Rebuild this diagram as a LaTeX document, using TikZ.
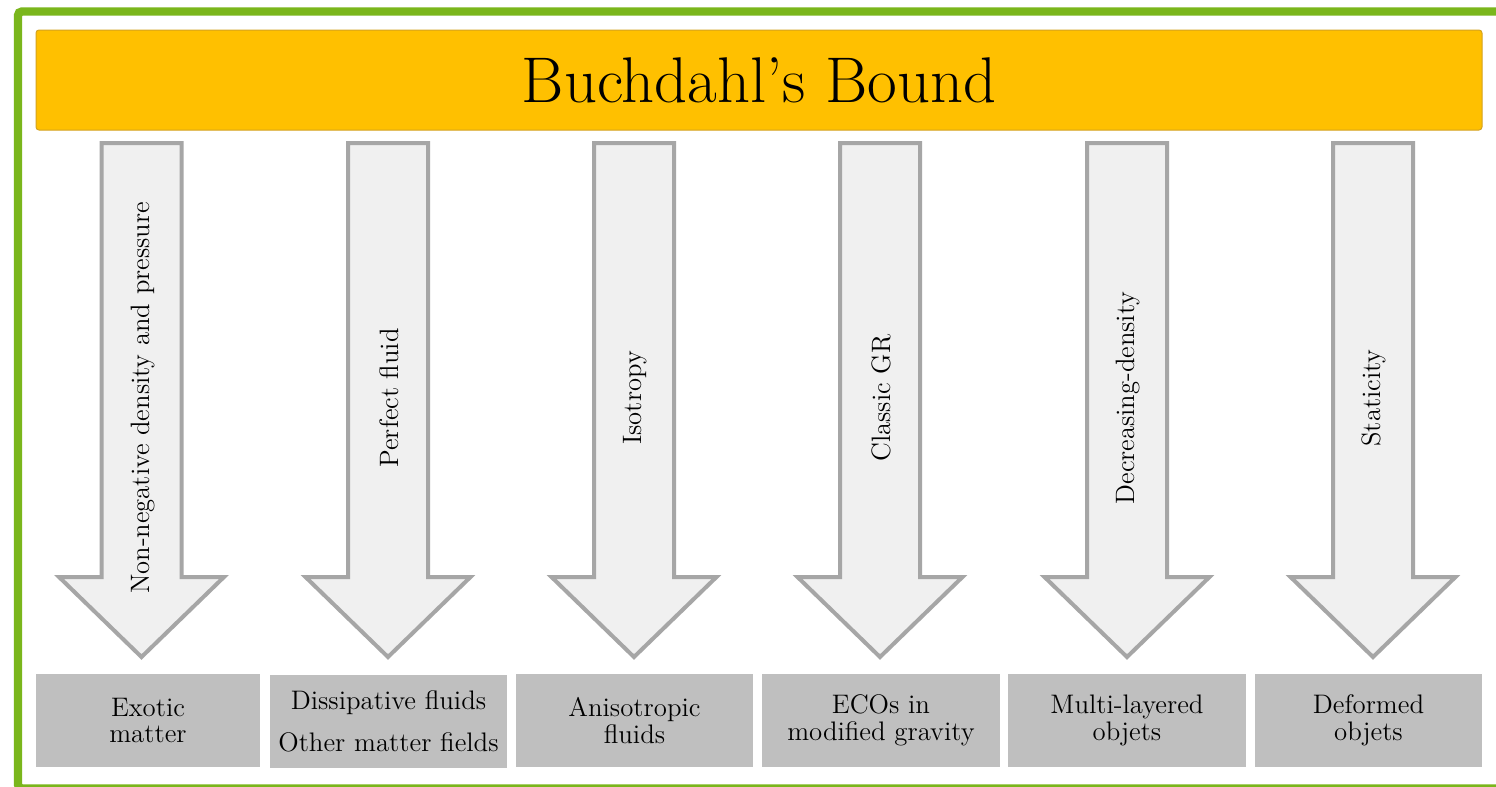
\documentclass[tikz,border=0pt]{standalone}
\usepackage{fontspec}
\definecolor{framegreen}{RGB}{122,182,28}
\definecolor{bannerfill}{RGB}{255,192,0}
\definecolor{bannerline}{RGB}{212,162,30}
\definecolor{arrline}{RGB}{166,166,166}
\definecolor{arrfill}{RGB}{240,240,240}
\definecolor{boxfill}{RGB}{191,191,191}
\tikzset{
  frameline/.style={draw=framegreen, line width=4.2pt, rounded corners=2pt},
  banner/.style={fill=bannerfill, draw=bannerline, line width=0.5pt, rounded corners=1.5pt,
    minimum width=723pt, minimum height=50pt, inner sep=0pt,
    font=\fontsize{32.3}{38}\selectfont},
  bigarrow/.style={draw=arrline, fill=arrfill, line width=2pt, line join=miter},
  arrtext/.style={rotate=90, inner sep=0pt, font=\fontsize{13.3}{15}\selectfont},
  resultbox/.style={fill=boxfill, inner sep=0pt, minimum height=46.5pt, align=center,
    font=\fontsize{13.4}{13.4}\selectfont}
}
\begin{document}
\begin{tikzpicture}[x=0.5pt,y=-0.5pt]
\useasboundingbox (0,0) rectangle (1496,787);
\fill[white] (0,0) rectangle (1496,787);
\draw[frameline] (1496,11.5) -- (18,11.5) -- (18,788.5) -- (1496,788.5);
\node[banner] (title) at (759,80) {Buchdahl's Bound};
\foreach \c/\t [count=\i] in {141.5/Non-negative density and pressure, 388/Perfect fluid, 634/Isotropy, 880/Classic GR, 1127/Decreasing-density, 1373/Staticity}{
  \draw[bigarrow] (\c-40,143) -- (\c+40,143) -- (\c+40,577) -- (\c+82.5,577) -- (\c,657) -- (\c-82.5,577) -- (\c-40,577) -- cycle;
  \node[arrtext] (t\i) at (\c+1,398) {\t};
}
\node[resultbox, minimum width=112pt] (b1) at (148,720.5) {Exotic\\matter};
\node[resultbox, minimum width=118.5pt] (b2) at (388.5,721.5) {Dissipative fluids\\[7.9pt]Other matter fields};
\node[resultbox, minimum width=118.5pt] (b3) at (634.5,720.5) {Anisotropic\\fluids};
\node[resultbox, minimum width=119pt] (b4) at (881,720.5) {ECOs in\\modified gravity};
\node[resultbox, minimum width=119pt] (b5) at (1127,720.5) {Multi-layered\\objets};
\node[resultbox, minimum width=113.5pt] (b6) at (1368.5,720) {Deformed\\objets};
\end{tikzpicture}
\end{document}
